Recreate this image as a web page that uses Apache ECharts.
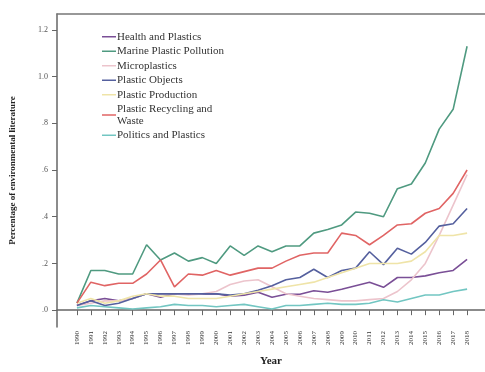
<!DOCTYPE html>
<html>
<head>
<meta charset="utf-8">
<script src="https://cdn.jsdelivr.net/npm/echarts@6/dist/echarts.min.js"></script>
<style>
  html, body { margin: 0; padding: 0; background: #fff; }
  #chart { width: 485px; height: 372px; }
</style>
</head>
<body>
<div id="chart"></div>
<script>
  var years = [1990, 1991, 1992, 1993, 1994, 1995, 1996, 1997, 1998, 1999,
    2000, 2001, 2002, 2003, 2004, 2005, 2006, 2007, 2008, 2009,
    2010, 2011, 2012, 2013, 2014, 2015, 2016, 2017, 2018]

  var yTicks = [0, 0.2, 0.4, 0.6, 0.8, 1.0, 1.2]
  var yTickLabels = ['.0', '.2', '.4', '.6', '.8', '1.0', '1.2']

  var health = [0.02, 0.04, 0.05, 0.04, 0.05, 0.07, 0.055, 0.07, 0.07, 0.07,
    0.07, 0.06, 0.064, 0.077, 0.055, 0.068, 0.068, 0.083, 0.077, 0.09,
    0.105, 0.12, 0.098, 0.14, 0.14, 0.147, 0.16, 0.17, 0.217]
  var marine = [0.03, 0.17, 0.17, 0.155, 0.155, 0.28, 0.215, 0.245, 0.21, 0.225,
    0.2, 0.275, 0.235, 0.275, 0.25, 0.275, 0.275, 0.33, 0.345, 0.365,
    0.42, 0.415, 0.40, 0.52, 0.54, 0.63, 0.775, 0.86, 1.13]
  var micro = [0.02, 0.03, 0.04, 0.04, 0.05, 0.07, 0.07, 0.07, 0.065, 0.07,
    0.08, 0.11, 0.125, 0.13, 0.1, 0.07, 0.06, 0.05, 0.045, 0.04,
    0.04, 0.045, 0.05, 0.08, 0.13, 0.2, 0.32, 0.45, 0.58]
  var objects = [0.02, 0.04, 0.02, 0.03, 0.05, 0.07, 0.07, 0.07, 0.07, 0.07,
    0.07, 0.065, 0.07, 0.085, 0.105, 0.13, 0.14, 0.175, 0.14, 0.17,
    0.18, 0.25, 0.195, 0.265, 0.24, 0.29, 0.36, 0.37, 0.435]
  var production = [0.03, 0.05, 0.03, 0.04, 0.06, 0.07, 0.06, 0.06, 0.05, 0.05,
    0.05, 0.06, 0.07, 0.08, 0.09, 0.1, 0.11, 0.12, 0.14, 0.16,
    0.18, 0.2, 0.2, 0.2, 0.21, 0.25, 0.32, 0.32, 0.33]
  var recycling = [0.03, 0.12, 0.105, 0.115, 0.115, 0.155, 0.215, 0.1, 0.155, 0.15,
    0.17, 0.15, 0.165, 0.18, 0.18, 0.21, 0.235, 0.245, 0.245, 0.33,
    0.32, 0.28, 0.32, 0.365, 0.37, 0.415, 0.435, 0.5, 0.6]
  var politics = [0.01, 0.02, 0.015, 0.01, 0.005, 0.01, 0.015, 0.025, 0.02, 0.02,
    0.015, 0.02, 0.025, 0.015, 0.005, 0.02, 0.02, 0.025, 0.03, 0.025,
    0.025, 0.03, 0.045, 0.035, 0.05, 0.065, 0.065, 0.08, 0.09]

  var names = ['Health and Plastics', 'Marine Plastic Pollution', 'Microplastics',
    'Plastic Objects', 'Plastic Production', 'Plastic Recycling and Waste', 'Politics and Plastics']
  var values = [health, marine, micro, objects, production, recycling, politics]
  var colors = ['#7a4f96', '#4f9a80', '#ecc4cc', '#55609e', '#efe4a8', '#e06464', '#72c6c2']

  var serif = '"Liberation Serif", "DejaVu Serif", serif'

  function pairs(arr) {
    return years.map(function(y, i) { return [y, arr[i]] })
  }

  var chart = echarts.init(document.getElementById('chart'))
  chart.setOption({
    animation: false,
    color: colors,
    grid: { left: 55, right: 0, top: 14, bottom: 42 },
    legend: {
      orient: 'vertical',
      left: 97,
      top: 26,
      icon: 'rect',
      itemWidth: 14,
      itemHeight: 1.5,
      itemGap: 3,
      data: names,
      formatter: function(n) {
        return n === 'Plastic Recycling and Waste' ? 'Plastic Recycling and\nWaste' : n
      },
      textStyle: { fontFamily: serif, fontSize: 11, color: '#333', lineHeight: 11.5, padding: [0, 0, 0, -4] }
    },
    xAxis: [{
      type: 'value',
      min: 1988.571,
      max: 2019.286,
      name: 'Year',
      nameLocation: 'middle',
      nameGap: 29,
      nameTextStyle: { fontFamily: serif, fontWeight: 'bold', fontSize: 11, color: '#222' },
      splitLine: { show: false },
      axisLine: { lineStyle: { color: '#666', width: 1.5 } },
      axisTick: { customValues: years, length: 5, lineStyle: { color: '#666' } },
      axisLabel: {
        customValues: years,
        rotate: 90,
        fontSize: 7,
        fontFamily: serif,
        color: '#333',
        margin: 4,
        formatter: function(v) { return String(v) }
      }
    }, {
      type: 'value',
      position: 'top',
      min: 1988.571,
      max: 2019.286,
      axisLine: { show: true, lineStyle: { color: '#777', width: 1.5 } },
      axisTick: { show: false },
      axisLabel: { show: false },
      splitLine: { show: false }
    }],
    yAxis: {
      type: 'value',
      min: -0.072,
      max: 1.268,
      name: 'Percentage of environmental literature',
      nameLocation: 'middle',
      nameGap: 40,
      nameTextStyle: { fontFamily: serif, fontWeight: 'bold', fontSize: 9, color: '#222' },
      splitLine: { show: false },
      axisLine: { show: true, lineStyle: { color: '#666', width: 1.5 } },
      axisTick: { show: true, customValues: yTicks, length: 5, lineStyle: { color: '#666' } },
      axisLabel: {
        customValues: yTicks,
        fontSize: 8,
        fontFamily: serif,
        color: '#555',
        margin: 9,
        formatter: function(v) {
          var i = yTicks.indexOf(Math.round(v * 10) / 10)
          return i >= 0 ? yTickLabels[i] : ''
        }
      }
    },
    series: names.map(function(n, i) {
      return {
        name: n,
        type: 'line',
        data: pairs(values[i]),
        showSymbol: false,
        symbol: 'none',
        lineStyle: { width: 1.6 }
      }
    })
  })
</script>
</body>
</html>
